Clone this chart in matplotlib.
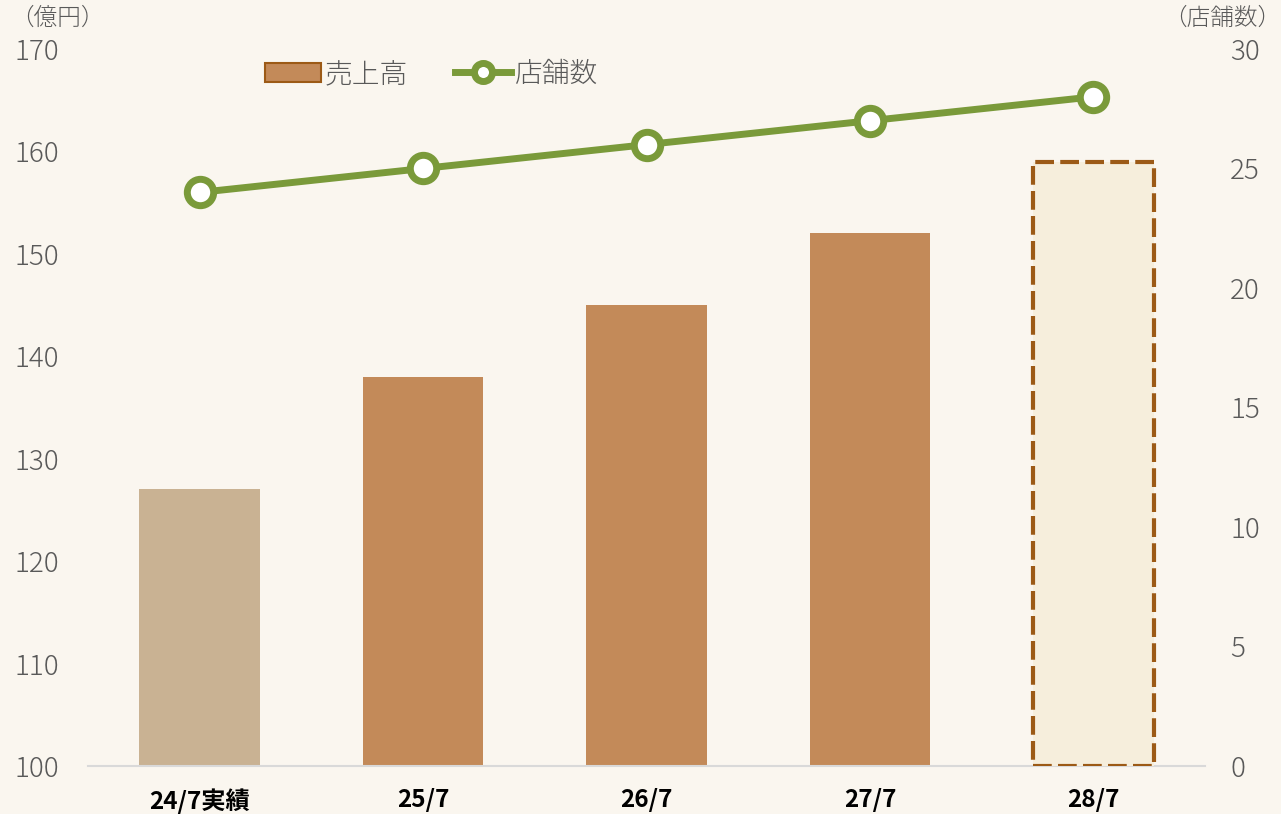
import matplotlib
matplotlib.use("Agg")
import matplotlib.pyplot as plt
from matplotlib.patches import Patch
from matplotlib.lines import Line2D

plt.rcParams['font.family'] = ['Noto Sans CJK JP', 'DejaVu Sans']

categories = ["24/7実績", "25/7", "26/7", "27/7", "28/7"]
sales = [127, 138, 145, 152, 159]
stores = [24, 25, 26, 27, 28]
left_ticks = [100, 110, 120, 130, 140, 150, 160, 170]
right_ticks = [0, 5, 10, 15, 20, 25, 30]

bg = "#FAF6EF"
bar_colors = ["#C9B293", "#C38A59", "#C38A59", "#C38A59", "#F6EEDC"]
green = "#7A9A3A"
brown_edge = "#9C5A16"
tick_gray = "#595959"

fig = plt.figure(figsize=(12.81, 8.14), dpi=100, facecolor=bg)
ax = fig.add_axes([0.0687, 0.059, 0.872, 0.8808])
ax.set_facecolor(bg)
x = list(range(len(categories)))
bars = ax.bar(x, [s - 100 for s in sales], bottom=100, width=0.54, color=bar_colors, zorder=2)
last = bars[-1]
last.set_edgecolor(brown_edge)
last.set_linewidth(3)
last.set_linestyle((0, (4.5, 1.5)))
last.set_zorder(3)

ax.set_xlim(-0.5, 4.5)
ax.set_ylim(100, 170)
ax.set_yticks(left_ticks)
ax.set_xticks(x)
ax.set_xticklabels(categories, fontsize=17.5, fontweight='bold', color='black')
ax.tick_params(axis='y', labelsize=20, colors=tick_gray, length=0, pad=53)
ax.tick_params(axis='x', length=0, pad=16)
for t in ax.get_yticklabels():
    t.set_horizontalalignment('left')
    t.set_fontweight('light')
for s in ['top', 'right', 'left']:
    ax.spines[s].set_visible(False)
ax.spines['bottom'].set_color('#D9D9D9')
ax.spines['bottom'].set_linewidth(1.5)

ax2 = ax.twinx()
ax2.set_ylim(0, 30)
ax2.set_yticks(right_ticks)
ax2.plot(x, stores, color=green, linewidth=5, marker='o', markersize=19,
         markerfacecolor='white', markeredgecolor=green, markeredgewidth=5, zorder=3)
ax2.tick_params(axis='y', labelsize=20, colors=tick_gray, length=0, pad=18)
for t in ax2.get_yticklabels():
    t.set_fontweight('light')
for s in ['top', 'right', 'left', 'bottom']:
    ax2.spines[s].set_visible(False)

fig.text(0.008, 0.977, "（億円）", fontsize=17, color=tick_gray, ha='left', va='center',
         fontweight='light')
fig.text(1.0, 0.977, "（店舗数）", fontsize=17, color=tick_gray, ha='right', va='center',
         fontweight='light')

handles = [Patch(facecolor="#C38A59", edgecolor=brown_edge, linewidth=1.5),
           Line2D([0], [0], color=green, linewidth=5, marker='o', markersize=13,
                  markerfacecolor='white', markeredgecolor=green, markeredgewidth=5)]
leg = fig.legend(handles, ["売上高", "店舗数"], loc='center', bbox_to_anchor=(0.337, 0.909),
                 ncol=2, frameon=False, fontsize=20, handlelength=2.0, handleheight=0.7,
                 columnspacing=1.7, handletextpad=0.15)
for t in leg.get_texts():
    t.set_color(tick_gray)
    t.set_fontweight('light')

fig.savefig("out.png", dpi=100, facecolor=bg)
